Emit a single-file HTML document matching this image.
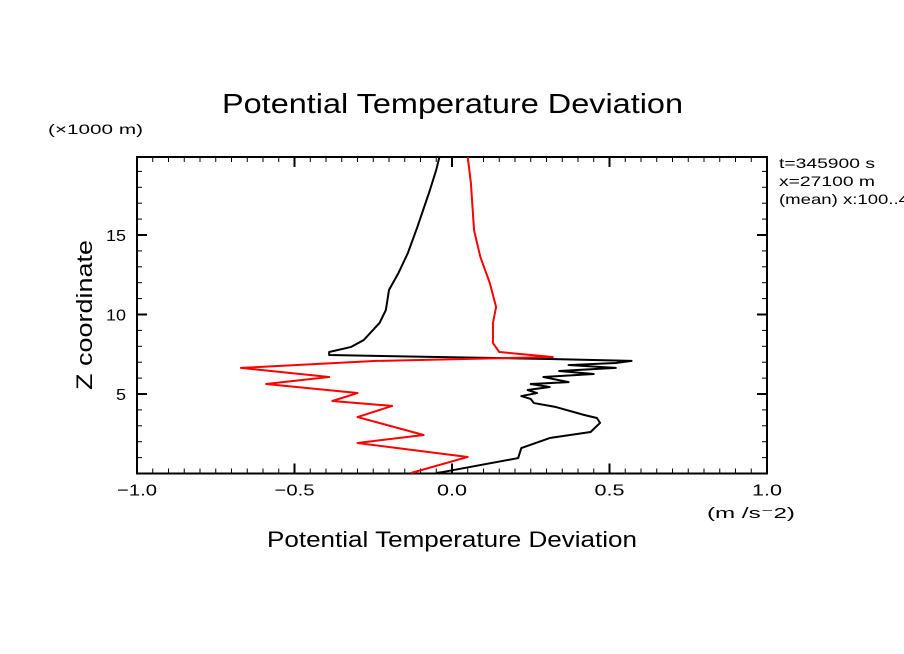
<!DOCTYPE html>
<html><head><meta charset="utf-8"><style>
body{margin:0;background:#fff}
svg{display:block;font-family:"Liberation Sans",sans-serif}
</style></head><body>
<svg id="c" width="904" height="654" viewBox="0 0 904 654">
<rect width="904" height="654" fill="#fff"/>
<text x="222" y="113" font-size="28" textLength="461" lengthAdjust="spacingAndGlyphs">Potential Temperature Deviation</text>
<text x="48" y="134" font-size="14" textLength="95" lengthAdjust="spacingAndGlyphs">(×1000 m)</text>
<text x="267" y="547" font-size="22" textLength="370" lengthAdjust="spacingAndGlyphs">Potential Temperature Deviation</text>
<text x="707" y="518" font-size="15" textLength="88" lengthAdjust="spacingAndGlyphs">(m /s⁻2)</text>
<text x="92" y="315" font-size="22" text-anchor="middle" textLength="150" lengthAdjust="spacingAndGlyphs" transform="rotate(-90 92 315)">Z coordinate</text>
<g font-size="14">
<text x="779" y="168" textLength="96" lengthAdjust="spacingAndGlyphs">t=345900 s</text>
<text x="779" y="186" textLength="96" lengthAdjust="spacingAndGlyphs">x=27100 m</text>
<text x="779" y="204" textLength="130" lengthAdjust="spacingAndGlyphs">(mean) x:100..4</text>
</g>
<g id="ax"></g>
<g id="series"></g>
</svg>
<script>
const xTicks=[-1.0,-0.5,0.0,0.5,1.0];
const xTickLabels=["\u22121.0","\u22120.5","0.0","0.5","1.0"];
const yTicks=[5,10,15];
const yTickLabels=["5","10","15"];
const blackX=[-0.05,-0.03,0.21,0.22,0.31,0.44,0.47,0.46,0.42,0.33,0.26,0.25,0.22,0.27,0.24,0.31,0.25,0.37,0.29,0.45,0.34,0.52,0.37,0.52,0.57,0.31,-0.39,-0.39,-0.32,-0.28,-0.23,-0.21,-0.20,-0.17,-0.14,-0.11,-0.07,-0.05,-0.04];
const blackZ=[0.03,0.09,0.97,1.60,2.23,2.61,3.18,3.49,3.68,4.18,4.43,4.69,4.87,5.06,5.25,5.44,5.63,5.75,6.07,6.26,6.45,6.64,6.82,6.95,7.08,7.20,7.45,7.64,7.96,8.40,9.47,10.28,11.54,12.61,13.87,15.5,17.83,19.1,19.9];
const redX=[-0.13,0.05,-0.30,-0.09,-0.30,-0.19,-0.38,-0.30,-0.59,-0.39,-0.67,-0.24,0.32,0.15,0.13,0.13,0.14,0.12,0.09,0.07,0.06,0.05];
const redZ=[0.03,1.04,1.92,2.42,3.55,4.25,4.56,5.06,5.63,6.07,6.64,7.08,7.33,7.64,8.21,9.47,10.47,11.98,13.62,15.3,18.27,19.9];

const L=137,R=767,T=157,B=473.5;
const xMin=-1,xMax=1,yMin=0,yMax=(B-T)/15.9;
const sx=v=>L+(v-xMin)/(xMax-xMin)*(R-L);
const sy=v=>B-(v-yMin)/(yMax-yMin)*(B-T);
const NS="http://www.w3.org/2000/svg";
const ax=document.getElementById('ax'),sg=document.getElementById('series');
function mk(tag,attrs,parent){const e=document.createElementNS(NS,tag);for(const k in attrs)e.setAttribute(k,attrs[k]);parent.appendChild(e);return e;}
const frame=mk('rect',{x:L,y:T,width:R-L,height:B-T,fill:'none',stroke:'#000','stroke-width':2},ax);


for(let i=0;i<=40;i++){const v=-1+i*0.05;const x=sx(v);const major=i%10===0;const len=major?10:5;
 mk('line',{x1:x,y1:B,x2:x,y2:B-len,stroke:'#000','stroke-width':major?2:1},ax);
 mk('line',{x1:x,y1:T,x2:x,y2:T+len,stroke:'#000','stroke-width':major?2:1},ax);}
xTicks.forEach((v,i)=>{const t=mk('text',{x:sx(v),y:B+22,'font-size':16,'text-anchor':'middle',textLength:xTickLabels[i].length*10,lengthAdjust:'spacingAndGlyphs'},ax);t.textContent=xTickLabels[i];
 
 });
for(let v=1;v<yMax;v++){const y=sy(v);const major=v%5===0;const len=major?10:5;
 mk('line',{x1:L,y1:y,x2:L+len,y2:y,stroke:'#000','stroke-width':major?2:1},ax);
 mk('line',{x1:R,y1:y,x2:R-len,y2:y,stroke:'#000','stroke-width':major?2:1},ax);}
yTicks.forEach((v,i)=>{const t=mk('text',{x:L-11,y:sy(v)+6,'font-size':16,'text-anchor':'end',textLength:yTickLabels[i].length*10,lengthAdjust:'spacingAndGlyphs'},ax);t.textContent=yTickLabels[i];
 
 });
function line(xs,zs,color,name){const p=mk('polyline',{points:xs.map((v,i)=>sx(v)+','+sy(zs[i])).join(' '),fill:'none',stroke:color,'stroke-width':2,'stroke-linejoin':'round'},sg);
 
 }
line(blackX,blackZ,'#000','black-profile-line');
line(redX,redZ,'#f00','red-profile-line');
</script>
</body></html>
